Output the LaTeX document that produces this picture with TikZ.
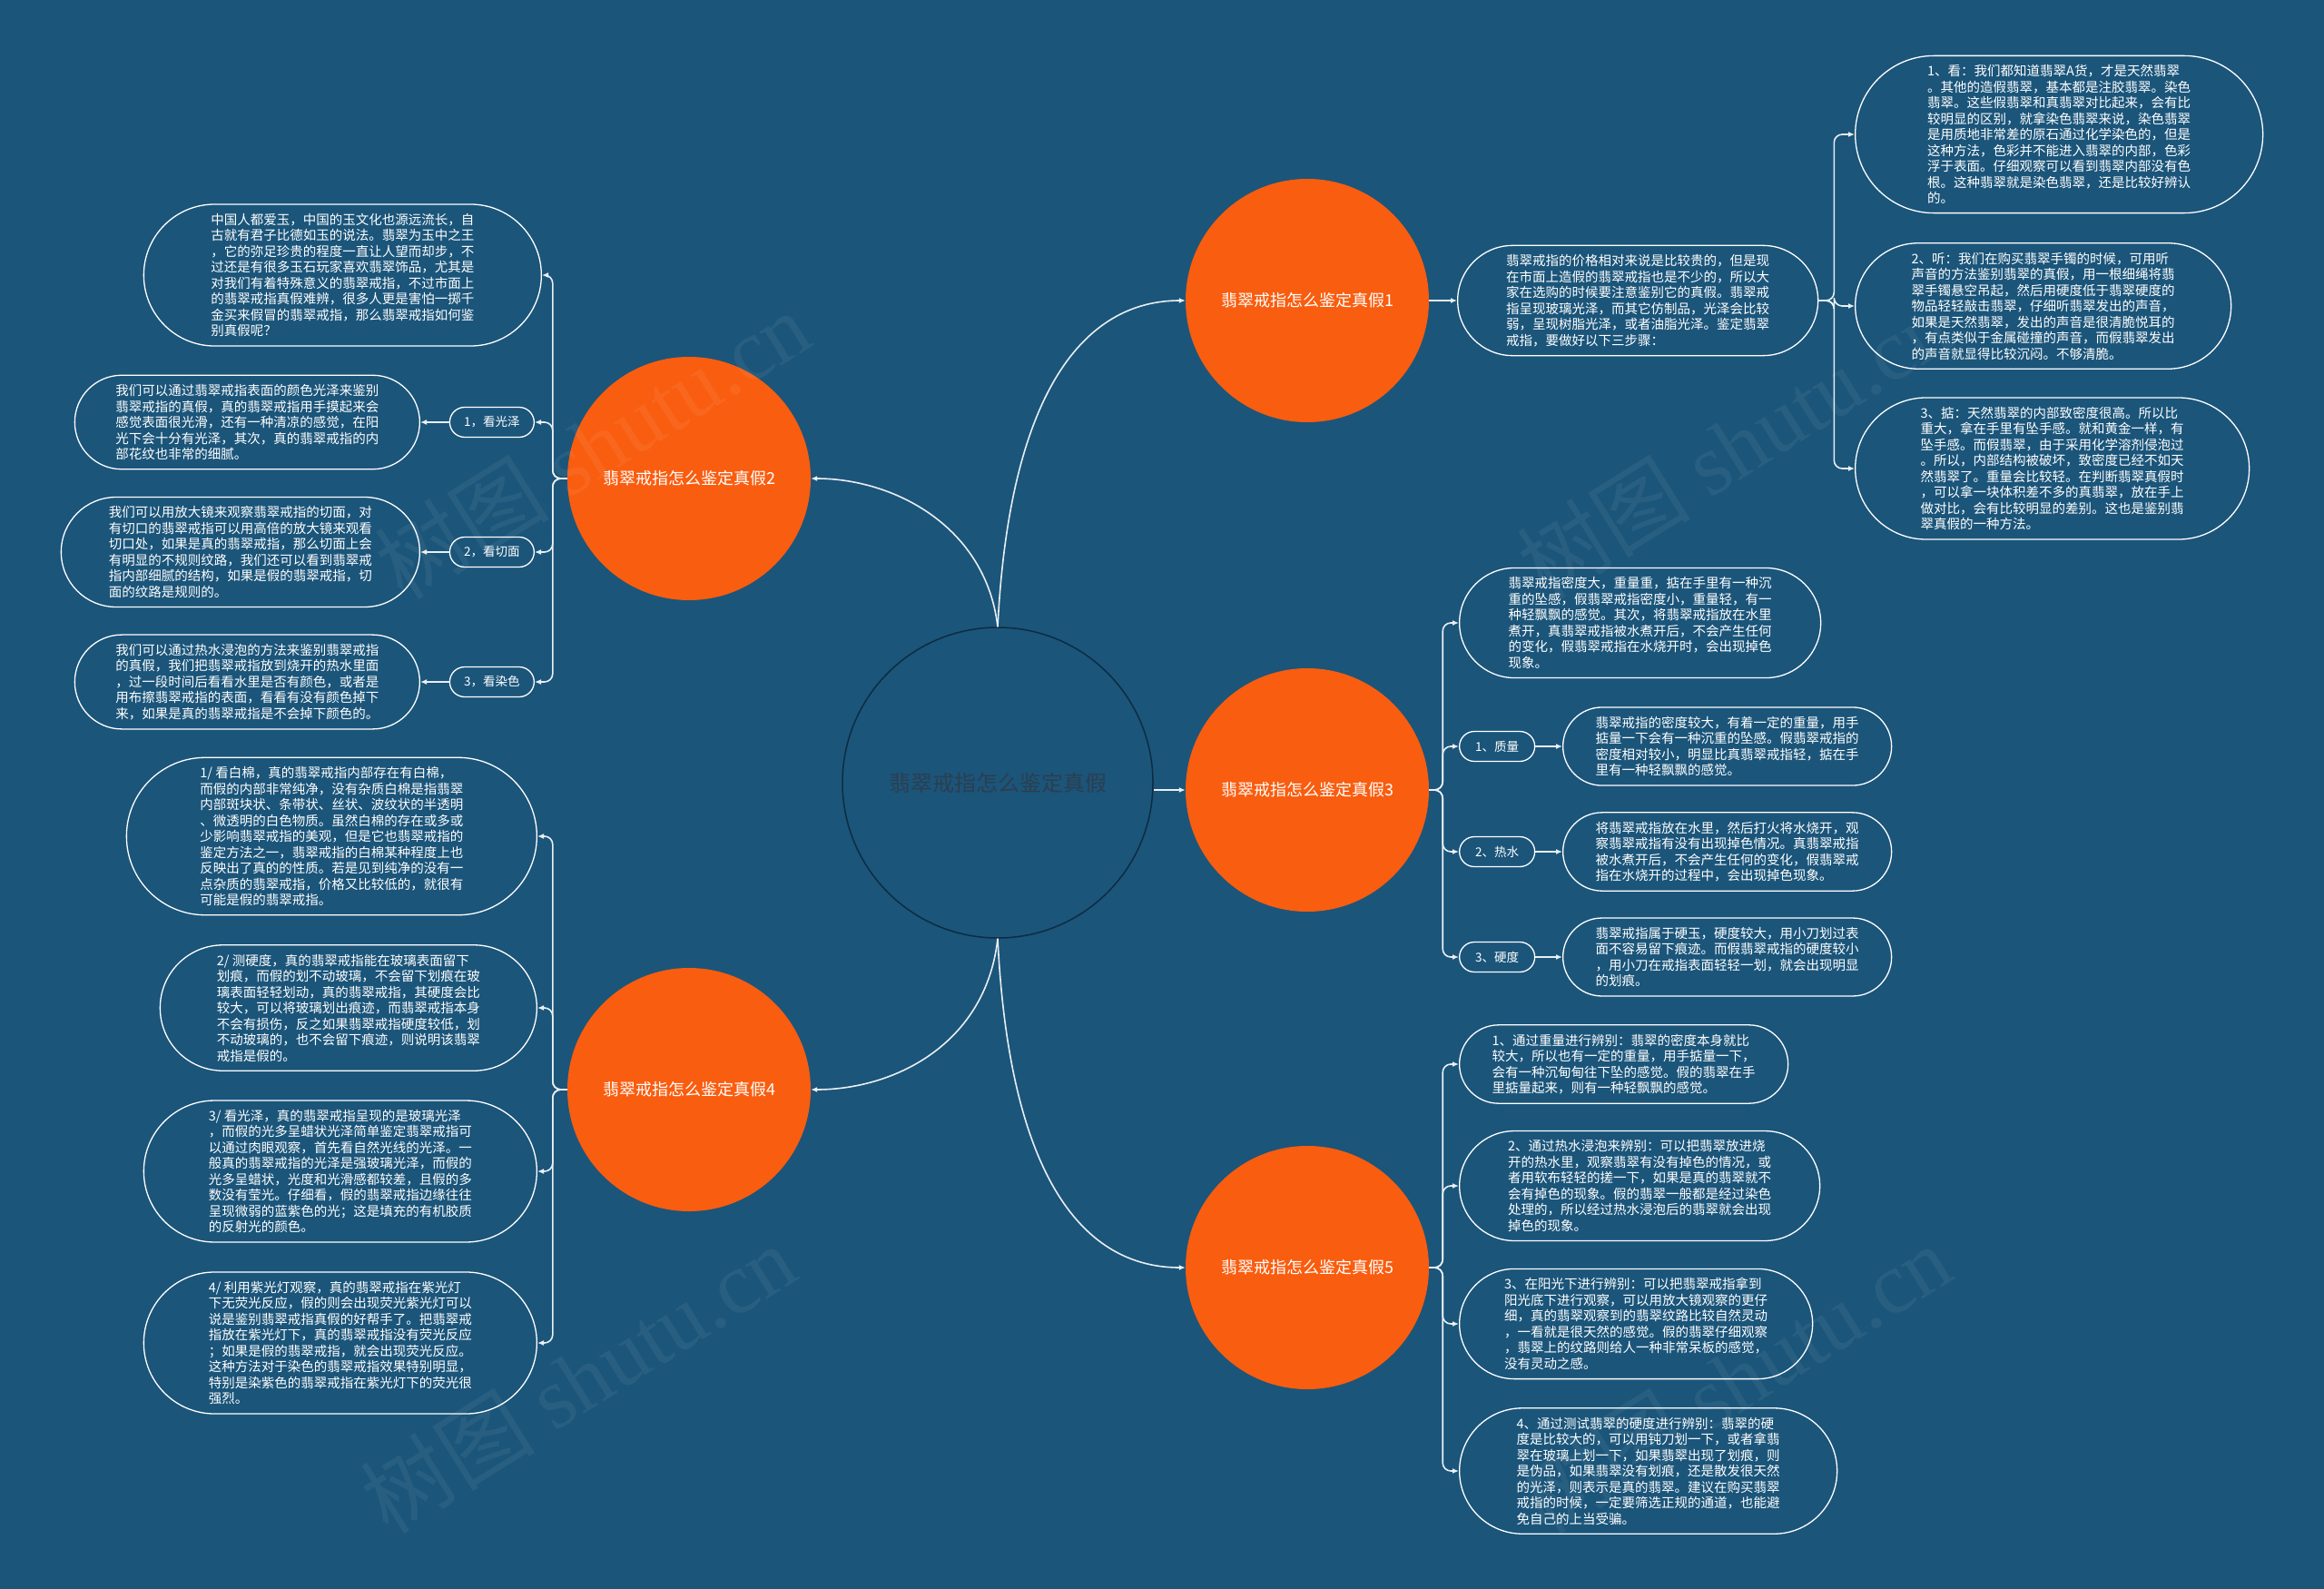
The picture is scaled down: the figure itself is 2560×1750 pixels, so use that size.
\documentclass[tikz,border=0pt]{standalone}
\usepackage{fontspec}
\setmainfont{Noto Sans CJK SC}
\newfontfamily\markfont{Liberation Serif}
\usepackage{xcolor}
\usetikzlibrary{arrows.meta,positioning,shapes.misc}

\definecolor{mapbg}{HTML}{1B557A}
\definecolor{gemorange}{HTML}{F95D0F}
\definecolor{hubline}{HTML}{0E2C42}
\definecolor{hubtext}{HTML}{2C3E50}
\definecolor{wire}{HTML}{E9EFF3}

\newcommand{\notefont}{\fontsize{14.5}{17.5}\selectfont}
\newcommand{\tagfont}{\fontsize{13.5}{16}\selectfont}
\newcommand{\gemfont}{\fontsize{18}{22}\selectfont}
\newcommand{\hubfont}{\fontsize{24}{28}\selectfont}

\begin{document}
\begin{tikzpicture}[
    x=1pt,
    y=-1pt,
    >={Latex[length=7pt,width=6pt]},
    every node/.style={font=\notefont},
    notebox/.style={
        rounded rectangle, draw=white, line width=1.3pt,
        text=white, align=left, inner xsep=3pt, inner ysep=10pt,
        minimum width=#1
    },
    tagbox/.style={
        rounded rectangle, draw=white, line width=1.3pt,
        text=white, font=\tagfont, inner xsep=0pt, inner ysep=0pt,
        minimum height=33pt, minimum width=#1
    },
    gembox/.style={
        circle, fill=gemorange, text=white, font=\gemfont,
        minimum size=268pt, inner sep=0pt
    },
    link/.style={draw=wire, line width=1.6pt, ->},
    elbow/.style={link, rounded corners=9pt}
]

% ---------------------------------------------------------
% Canvas
% ---------------------------------------------------------

\fill[mapbg] (0,0) rectangle (2560,1750);
\useasboundingbox (0,0) rectangle (2560,1750);

% ---------------------------------------------------------
% Centre and main topics
% ---------------------------------------------------------

\node[
    circle,
    fill=mapbg,
    draw=hubline,
    line width=1.5pt,
    minimum size=342pt,
    text=hubtext,
    font=\hubfont
] (hub) at (1099,862) {翡翠戒指怎么鉴定真假};

\node[gembox] (gem1) at (1440,331)  {翡翠戒指怎么鉴定真假1};
\node[gembox] (gem2) at (759,527)   {翡翠戒指怎么鉴定真假2};
\node[gembox] (gem3) at (1440,870)  {翡翠戒指怎么鉴定真假3};
\node[gembox] (gem4) at (759,1200)  {翡翠戒指怎么鉴定真假4};
\node[gembox] (gem5) at (1440,1396) {翡翠戒指怎么鉴定真假5};

\draw[link]
    (hub.north) .. controls (1112,430) and (1195,331) .. (gem1.west);
\draw[link]
    (hub.north) .. controls (1086,580) and (985,527) .. (gem2.east);
\draw[link]
    (hub.east |- gem3.west) -- (gem3.west);
\draw[link]
    (hub.south) .. controls (1086,1150) and (985,1200) .. (gem4.east);
\draw[link]
    (hub.south) .. controls (1112,1300) and (1195,1396) .. (gem5.west);

% ---------------------------------------------------------
% Topic 1: look, listen, weigh
% ---------------------------------------------------------

\node[notebox=403pt, anchor=west] (lead1) at (1605,331)
    {翡翠戒指的价格相对来说是比较贵的，但是现\\
     在市面上造假的翡翠戒指也是不少的，所以大\\
     家在选购的时候要注意鉴别它的真假。翡翠戒\\
     指呈现玻璃光泽，而其它仿制品，光泽会比较\\
     弱，呈现树脂光泽，或者油脂光泽。鉴定翡翠\\
     戒指，要做好以下三步骤：};

\node[notebox=455pt, anchor=west] (tip11) at (2043,148)
    {1、看：我们都知道翡翠A货，才是天然翡翠\\
     。其他的造假翡翠，基本都是注胶翡翠。染色\\
     翡翠。这些假翡翠和真翡翠对比起来，会有比\\
     较明显的区别，就拿染色翡翠来说，染色翡翠\\
     是用质地非常差的原石通过化学染色的，但是\\
     这种方法，色彩并不能进入翡翠的内部，色彩\\
     浮于表面。仔细观察可以看到翡翠内部没有色\\
     根。这种翡翠就是染色翡翠，还是比较好辨认\\
     的。};

\node[notebox=420pt, anchor=west] (tip12) at (2043,337)
    {2、听：我们在购买翡翠手镯的时候，可用听\\
     声音的方法鉴别翡翠的真假，用一根细绳将翡\\
     翠手镯悬空吊起，然后用硬度低于翡翠硬度的\\
     物品轻轻敲击翡翠，仔细听翡翠发出的声音，\\
     如果是天然翡翠，发出的声音是很清脆悦耳的\\
     ，有点类似于金属碰撞的声音，而假翡翠发出\\
     的声音就显得比较沉闷。不够清脆。};

\node[notebox=440pt, anchor=west] (tip13) at (2043,516)
    {3、掂：天然翡翠的内部致密度很高。所以比\\
     重大，拿在手里有坠手感。就和黄金一样，有\\
     坠手感。而假翡翠，由于采用化学溶剂侵泡过\\
     。所以，内部结构被破坏，致密度已经不如天\\
     然翡翠了。重量会比较轻。在判断翡翠真假时\\
     ，可以拿一块体积差不多的真翡翠，放在手上\\
     做对比，会有比较明显的差别。这也是鉴别翡\\
     翠真假的一种方法。};

\draw[link] (gem1.east) -- (lead1.west);

\foreach \kid in {tip11,tip12,tip13}{
    \draw[elbow]
        (lead1.east) -- ++(17,0) |- (\kid.west);
}

% ---------------------------------------------------------
% Topic 2: lustre, cut face, dye
% ---------------------------------------------------------

\node[notebox=444pt, anchor=east] (lead2) at (597,303)
    {中国人都爱玉，中国的玉文化也源远流长，自\\
     古就有君子比德如玉的说法。翡翠为玉中之王\\
     ，它的弥足珍贵的程度一直让人望而却步，不\\
     过还是有很多玉石玩家喜欢翡翠饰品，尤其是\\
     对我们有着特殊意义的翡翠戒指，不过市面上\\
     的翡翠戒指真假难辨，很多人更是害怕一掷千\\
     金买来假冒的翡翠戒指，那么翡翠戒指如何鉴\\
     别真假呢？};

\node[tagbox=93pt, anchor=east] (tag21) at (589,465) {1，看光泽};
\node[tagbox=93pt, anchor=east] (tag22) at (589,608) {2，看切面};
\node[tagbox=93pt, anchor=east] (tag23) at (589,751) {3，看染色};

\node[notebox=386pt, anchor=east] (tip21) at (463,465)
    {我们可以通过翡翠戒指表面的颜色光泽来鉴别\\
     翡翠戒指的真假，真的翡翠戒指用手摸起来会\\
     感觉表面很光滑，还有一种清凉的感觉，在阳\\
     光下会十分有光泽，其次，真的翡翠戒指的内\\
     部花纹也非常的细腻。};

\node[notebox=401pt, anchor=east] (tip22) at (463,608)
    {我们可以用放大镜来观察翡翠戒指的切面，对\\
     有切口的翡翠戒指可以用高倍的放大镜来观看\\
     切口处，如果是真的翡翠戒指，那么切面上会\\
     有明显的不规则纹路，我们还可以看到翡翠戒\\
     指内部细腻的结构，如果是假的翡翠戒指，切\\
     面的纹路是规则的。};

\node[notebox=386pt, anchor=east] (tip23) at (463,751)
    {我们可以通过热水浸泡的方法来鉴别翡翠戒指\\
     的真假，我们把翡翠戒指放到烧开的热水里面\\
     ，过一段时间后看看水里是否有颜色，或者是\\
     用布擦翡翠戒指的表面，看看有没有颜色掉下\\
     来，如果是真的翡翠戒指是不会掉下颜色的。};

\foreach \kid in {lead2,tag21,tag22,tag23}{
    \draw[elbow]
        (gem2.west) -- ++(-16,0) |- (\kid.east);
}

\foreach \i in {1,2,3}{
    \draw[link] (tag2\i.west) -- (tip2\i.east);
}

% ---------------------------------------------------------
% Topic 3: weight, hot water, hardness
% ---------------------------------------------------------

\node[notebox=404pt, anchor=west] (lead3) at (1607,686)
    {翡翠戒指密度大，重量重，掂在手里有一种沉\\
     重的坠感，假翡翠戒指密度小，重量轻，有一\\
     种轻飘飘的感觉。其次，将翡翠戒指放在水里\\
     煮开，真翡翠戒指被水煮开后，不会产生任何\\
     的变化，假翡翠戒指在水烧开时，会出现掉色\\
     现象。};

\node[tagbox=83pt, anchor=west] (tag31) at (1607,822)  {1、质量};
\node[tagbox=83pt, anchor=west] (tag32) at (1607,938)  {2、热水};
\node[tagbox=83pt, anchor=west] (tag33) at (1607,1054) {3、硬度};

\node[notebox=368pt, anchor=west] (tip31) at (1721,822)
    {翡翠戒指的密度较大，有着一定的重量，用手\\
     掂量一下会有一种沉重的坠感。假翡翠戒指的\\
     密度相对较小，明显比真翡翠戒指轻，掂在手\\
     里有一种轻飘飘的感觉。};

\node[notebox=368pt, anchor=west] (tip32) at (1721,938)
    {将翡翠戒指放在水里，然后打火将水烧开，观\\
     察翡翠戒指有没有出现掉色情况。真翡翠戒指\\
     被水煮开后，不会产生任何的变化，假翡翠戒\\
     指在水烧开的过程中，会出现掉色现象。};

\node[notebox=368pt, anchor=west] (tip33) at (1721,1054)
    {翡翠戒指属于硬玉，硬度较大，用小刀划过表\\
     面不容易留下痕迹。而假翡翠戒指的硬度较小\\
     ，用小刀在戒指表面轻轻一划，就会出现明显\\
     的划痕。};

\foreach \kid in {lead3,tag31,tag32,tag33}{
    \draw[elbow]
        (gem3.east) -- ++(15,0) |- (\kid.west);
}

\foreach \i in {1,2,3}{
    \draw[link] (tag3\i.east) -- (tip3\i.west);
}

% ---------------------------------------------------------
% Topic 4: cotton, hardness, lustre, UV lamp
% ---------------------------------------------------------

\node[notebox=458pt, anchor=east] (tip41) at (592,921)
    {1/ 看白棉，真的翡翠戒指内部存在有白棉，\\
     而假的内部非常纯净，没有杂质白棉是指翡翠\\
     内部斑块状、条带状、丝状、波纹状的半透明\\
     、微透明的白色物质。虽然白棉的存在或多或\\
     少影响翡翠戒指的美观，但是它也翡翠戒指的\\
     鉴定方法之一，翡翠戒指的白棉某种程度上也\\
     反映出了真的的性质。若是见到纯净的没有一\\
     点杂质的翡翠戒指，价格又比较低的，就很有\\
     可能是假的翡翠戒指。};

\node[notebox=421pt, anchor=east] (tip42) at (592,1110)
    {2/ 测硬度，真的翡翠戒指能在玻璃表面留下\\
     划痕，而假的划不动玻璃，不会留下划痕在玻\\
     璃表面轻轻划动，真的翡翠戒指，其硬度会比\\
     较大，可以将玻璃划出痕迹，而翡翠戒指本身\\
     不会有损伤，反之如果翡翠戒指硬度较低，划\\
     不动玻璃的，也不会留下痕迹，则说明该翡翠\\
     戒指是假的。};

\node[notebox=439pt, anchor=east] (tip43) at (592,1290)
    {3/ 看光泽，真的翡翠戒指呈现的是玻璃光泽\\
     ，而假的光多呈蜡状光泽简单鉴定翡翠戒指可\\
     以通过肉眼观察，首先看自然光线的光泽。一\\
     般真的翡翠戒指的光泽是强玻璃光泽，而假的\\
     光多呈蜡状，光度和光滑感都较差，且假的多\\
     数没有莹光。仔细看，假的翡翠戒指边缘往往\\
     呈现微弱的蓝紫色的光；这是填充的有机胶质\\
     的反射光的颜色。};

\node[notebox=439pt, anchor=east] (tip44) at (592,1479)
    {4/ 利用紫光灯观察，真的翡翠戒指在紫光灯\\
     下无荧光反应，假的则会出现荧光紫光灯可以\\
     说是鉴别翡翠戒指真假的好帮手了。把翡翠戒\\
     指放在紫光灯下，真的翡翠戒指没有荧光反应\\
     ；如果是假的翡翠戒指，就会出现荧光反应。\\
     这种方法对于染色的翡翠戒指效果特别明显，\\
     特别是染紫色的翡翠戒指在紫光灯下的荧光很\\
     强烈。};

\foreach \kid in {tip41,tip42,tip43,tip44}{
    \draw[elbow]
        (gem4.west) -- ++(-16,0) |- (\kid.east);
}

% ---------------------------------------------------------
% Topic 5: four ways of telling
% ---------------------------------------------------------

\node[notebox=368pt, anchor=west] (tip51) at (1607,1172)
    {1、通过重量进行辨别：翡翠的密度本身就比\\
     较大，所以也有一定的重量，用手掂量一下，\\
     会有一种沉甸甸往下坠的感觉。假的翡翠在手\\
     里掂量起来，则有一种轻飘飘的感觉。};

\node[notebox=403pt, anchor=west] (tip52) at (1607,1306)
    {2、通过热水浸泡来辨别：可以把翡翠放进烧\\
     开的热水里，观察翡翠有没有掉色的情况，或\\
     者用软布轻轻的搓一下，如果是真的翡翠就不\\
     会有掉色的现象。假的翡翠一般都是经过染色\\
     处理的，所以经过热水浸泡后的翡翠就会出现\\
     掉色的现象。};

\node[notebox=395pt, anchor=west] (tip53) at (1607,1458)
    {3、在阳光下进行辨别：可以把翡翠戒指拿到\\
     阳光底下进行观察，可以用放大镜观察的更仔\\
     细，真的翡翠观察到的翡翠纹路比较自然灵动\\
     ，一看就是很天然的感觉。假的翡翠仔细观察\\
     ，翡翠上的纹路则给人一种非常呆板的感觉，\\
     没有灵动之感。};

\node[notebox=422pt, anchor=west] (tip54) at (1607,1620)
    {4、通过测试翡翠的硬度进行辨别：翡翠的硬\\
     度是比较大的，可以用钝刀划一下，或者拿翡\\
     翠在玻璃上划一下，如果翡翠出现了划痕，则\\
     是伪品，如果翡翠没有划痕，还是散发很天然\\
     的光泽，则表示是真的翡翠。建议在购买翡翠\\
     戒指的时候，一定要筛选正规的通道，也能避\\
     免自己的上当受骗。};

\foreach \kid in {tip51,tip52,tip53,tip54}{
    \draw[elbow]
        (gem5.east) -- ++(15,0) |- (\kid.west);
}

% ---------------------------------------------------------
% Watermark
% ---------------------------------------------------------

\foreach \wx/\wy [count=\w] in {653/490, 1910/490, 637/1518, 1910/1518}{
    \node[
        rotate=32,
        text=white,
        text opacity=0.06,
        font=\fontsize{96}{100}\selectfont
    ] (mark\w) at (\wx,\wy) {树图 {\markfont shutu.cn}};
}

\end{tikzpicture}
\end{document}
